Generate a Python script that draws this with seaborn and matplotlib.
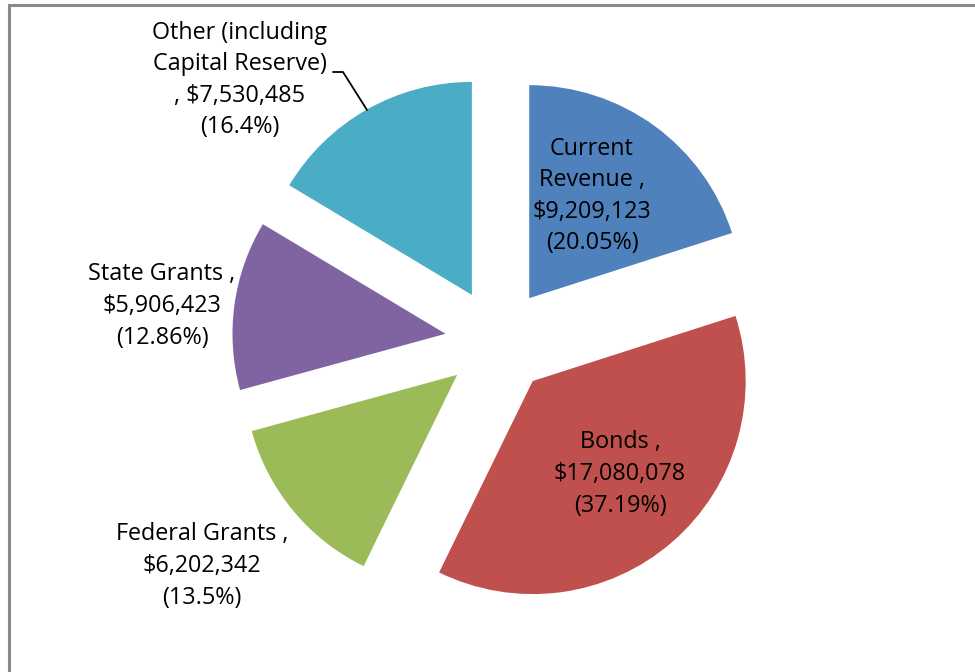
import matplotlib
matplotlib.use("Agg")
import matplotlib.pyplot as plt
from matplotlib.patches import Rectangle
import seaborn as sns

# Capital funding sources
categories = ["Current Revenue", "Bonds", "Federal Grants", "State Grants",
              "Other (including Capital Reserve)"]
amounts = [9209123, 17080078, 6202342, 5906423, 7530485]
pct_labels = ["20.05%", "37.19%", "13.5%", "12.86%", "16.4%"]
label_texts = [
    "Current\nRevenue ,\n$9,209,123\n(20.05%)",
    "Bonds ,\n$17,080,078\n(37.19%)",
    "Federal Grants ,\n$6,202,342\n(13.5%)",
    "State Grants ,\n$5,906,423\n(12.86%)",
    "Other (including\nCapital Reserve)\n, $7,530,485\n(16.4%)",
]
colors = ["#4F81BD", "#C0504D", "#9BBB59", "#8064A2", "#4BACC6"]

sns.set_theme(style="white")
plt.rcParams["font.family"] = ["Open Sans", "DejaVu Sans"]

W, H = 975, 672
fig = plt.figure(figsize=(W / 100, H / 100), dpi=100)
ax = fig.add_axes([0, 0, 1, 1])

radius = 213
offset = 53  # every wedge is pulled out from the centre by this distance
ax.pie(amounts, colors=sns.color_palette(colors), startangle=90,
       counterclock=False, radius=radius, center=(498, H - 341),
       explode=[offset] * len(amounts), frame=True,
       wedgeprops=dict(linewidth=0))
ax.set_xlim(0, W)
ax.set_ylim(0, H)
ax.set_aspect("equal")
ax.axis("off")

# label anchors (pixel coordinates from top-left)
label_pos = [(592, 196), (620, 474), (202, 566), (162, 306), (240, 80)]
for txt, (x, y) in zip(label_texts, label_pos):
    ax.text(x, H - y, txt, ha="center", va="center", fontsize=16.8,
            color="black", linespacing=1.42)

# leader line for the "Other" label
ax.plot([333, 343, 367], [H - 72, H - 72, H - 110], color="black", lw=1.3)

# chart frame
fig.patches.append(Rectangle((9 / W, -0.1), 1.2, (H - 5) / H + 0.1,
                             transform=fig.transFigure, fill=False,
                             edgecolor="#8a8a8a", linewidth=2.2))

fig.savefig("out.png", dpi=100)
